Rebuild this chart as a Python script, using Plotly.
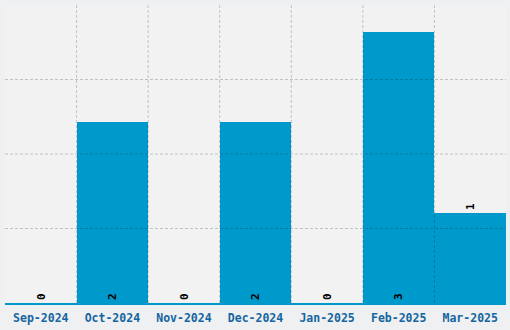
import plotly.graph_objects as go

categories = ["Sep-2024", "Oct-2024", "Nov-2024", "Dec-2024", "Jan-2025", "Feb-2025", "Mar-2025"]
values = [0, 2, 0, 2, 0, 3, 1]
y_max = 3.3
y_grid = [0.825, 1.65, 2.475]

positions = ["inside" if v >= 2 else "outside" for v in values]
label_font = dict(family="DejaVu Sans Mono", size=11, color="#000000", weight="bold")

fig = go.Figure()
fig.add_trace(go.Bar(
    x=categories, y=values, text=[str(v) for v in values],
    textposition=positions, insidetextanchor="start", textangle=-90,
    textfont=label_font, insidetextfont=label_font, outsidetextfont=label_font,
    marker=dict(color="#0099cc", line=dict(width=0)),
    cliponaxis=False, hoverinfo="skip",
))

shapes = []
for g in y_grid:
    shapes.append(dict(type="line", xref="paper", yref="y", x0=0, x1=1, y0=g, y1=g,
                       line=dict(color="rgba(0,0,0,0.2)", width=1, dash="3px,2px"), layer="above"))
for i in range(len(categories) - 1):
    shapes.append(dict(type="line", xref="x", yref="paper", x0=i + 0.5, x1=i + 0.5, y0=0, y1=1,
                       line=dict(color="rgba(0,0,0,0.2)", width=1, dash="3px,2px"), layer="above"))

fig.update_layout(
    width=510, height=330, margin=dict(l=5, r=4, t=5, b=27),
    paper_bgcolor="#eef0f1", plot_bgcolor="#f2f2f2",
    bargap=0, showlegend=False, shapes=shapes,
    xaxis=dict(showgrid=False, showline=True, linecolor="#0099cc", linewidth=1.5,
               ticks="", ticklabelstandoff=3,
               tickfont=dict(family="DejaVu Sans Mono", size=11.5, color="#1565a0", weight="bold")),
    yaxis=dict(range=[0, y_max], showgrid=False, showticklabels=False, zeroline=False, ticks=""),
)

fig.write_html("out.html")
